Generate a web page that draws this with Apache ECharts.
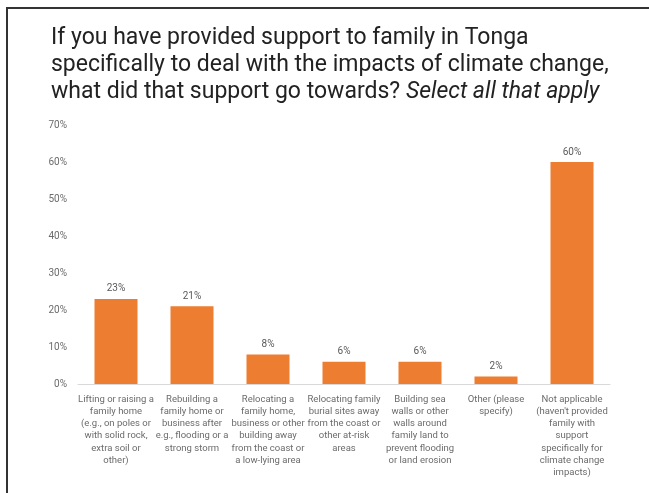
<!DOCTYPE html>
<html>
<head>
<meta charset="utf-8">
<script src="https://cdn.jsdelivr.net/npm/echarts@6/dist/echarts.min.js"></script>
<style>
html,body{margin:0;padding:0;background:#fff;}
#frame{position:absolute;left:6px;top:7px;width:643px;height:486px;border-left:2px solid #333;border-top:2px solid #333;box-sizing:border-box;}
#chart{position:absolute;left:0;top:0;width:649px;height:493px;}
</style>
</head>
<body>
<div id="frame"></div>
<div id="chart"></div>
<script>
const titleLines = [
  "If you have provided support to family in Tonga",
  "specifically to deal with the impacts of climate change,",
  "what did that support go towards? "
];
const titleItalic = "Select all that apply";
const categories = [
  "Lifting or raising a\nfamily home\n(e.g., on poles or\nwith solid rock,\nextra soil or\nother)",
  "Rebuilding a\nfamily home or\nbusiness after\ne.g., flooding or a\nstrong storm",
  "Relocating a\nfamily home,\nbusiness or other\nbuilding away\nfrom the coast or\na low-lying area",
  "Relocating family\nburial sites away\nfrom the coast or\nother at-risk\nareas",
  "Building sea\nwalls or other\nwalls around\nfamily land to\nprevent flooding\nor land erosion",
  "Other (please\nspecify)",
  "Not applicable\n(haven't provided\nfamily with\nsupport\nspecifically for\nclimate change\nimpacts)"
];
const values = [23, 21, 8, 6, 6, 2, 60];
const yTicks = [0, 10, 20, 30, 40, 50, 60, 70];

const chart = echarts.init(document.getElementById('chart'), null, {renderer: 'canvas'});
chart.setOption({
  animation: false,
  backgroundColor: 'transparent',
  title: {
    left: 46, top: 20,
    text: titleLines[0] + '\n' + titleLines[1] + '\n' + titleLines[2] + '{i|' + titleItalic + '}',
    textStyle: {
      fontFamily: 'Roboto', fontSize: 23, fontWeight: 'normal', color: '#222', lineHeight: 27,
      rich: { i: { fontFamily: 'Roboto', fontSize: 23, fontStyle: 'italic', color: '#222', lineHeight: 27 } }
    }
  },
  grid: { left: 78, right: 39, top: 125, bottom: 109, containLabel: false },
  xAxis: {
    type: 'category',
    data: categories,
    axisLine: { lineStyle: { color: '#d9d9d9', width: 1 } },
    axisTick: { show: false },
    axisLabel: {
      interval: 0, color: '#6b6b6b', fontFamily: 'Roboto', fontSize: 9.5, lineHeight: 12.3, margin: 9
    }
  },
  yAxis: {
    type: 'value', min: yTicks[0], max: yTicks[yTicks.length - 1], interval: 10,
    splitLine: { show: false },
    axisLine: { show: false },
    axisTick: { show: false },
    axisLabel: { formatter: '{value}%', color: '#6b6b6b', fontFamily: 'Roboto', fontSize: 10, margin: 11 }
  },
  series: [{
    type: 'bar',
    data: values,
    barWidth: 43,
    itemStyle: { color: '#ED7D31' },
    label: {
      show: true, position: 'top', formatter: '{c}%', color: '#595959',
      fontFamily: 'Roboto', fontSize: 10, distance: 5
    }
  }]
});
</script>
</body>
</html>
